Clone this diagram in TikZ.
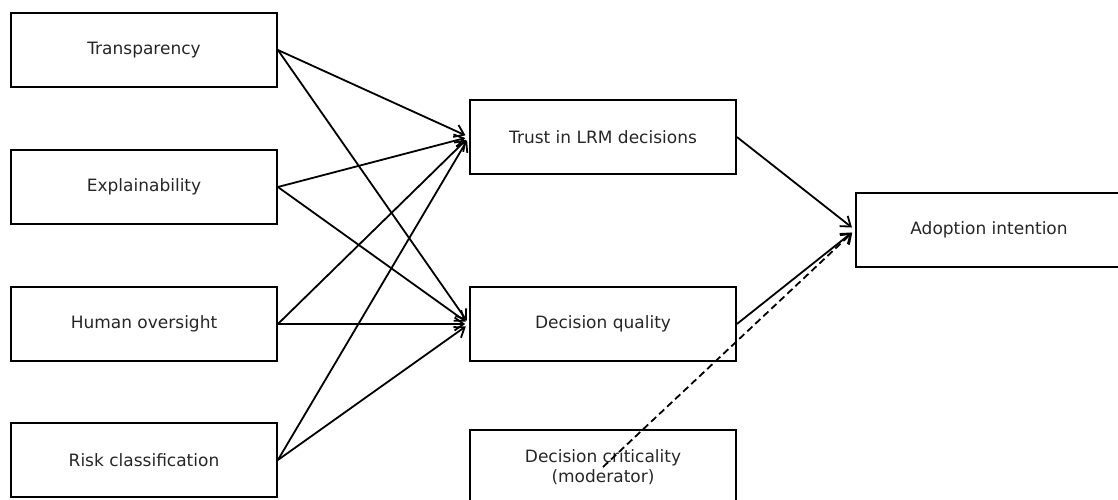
\documentclass[tikz,border=0pt]{standalone}
\usepackage{fontspec}
\setmainfont{DejaVu Sans}
\usetikzlibrary{arrows.meta}
\begin{document}
\begin{tikzpicture}[x=1pt,y=-1pt,
  box/.style={draw=black,line width=1.8pt,minimum width=266pt,minimum height=74pt,inner sep=0pt,align=center,font=\fontsize{17}{20}\selectfont,text=black!85},
  arr/.style={line width=1.8pt,-{Straight Barb[length=9pt,width=13pt,line width=1.8pt]},shorten >=4pt},
  darr/.style={arr,dash pattern=on 7pt off 4pt}]
\useasboundingbox (0,0) rectangle (1118,500);
\node[box] (tr) at (144,50) {Transparency};
\node[box] (ex) at (144,187) {Explainability};
\node[box] (ho) at (144,324) {Human oversight};
\node[box] (rc) at (144,460) {Risk classification};
\node[box] (trust) at (603,137) {Trust in LRM decisions};
\node[box] (dq) at (603,324) {Decision quality};
\node[box] (dc) at (603,467) {Decision criticality\\(moderator)};
\node[box] (ad) at (989,230) {Adoption intention};
\foreach \s in {tr,ex,ho,rc}{
  \draw[arr] (\s.east) -- (trust.west);
  \draw[arr] (\s.east) -- (dq.west);
}
\draw[arr] (trust.east) -- (ad.west);
\draw[arr] (dq.east) -- (ad.west);
\draw[darr] (dc.center) -- (ad.west);
\end{tikzpicture}
\end{document}
